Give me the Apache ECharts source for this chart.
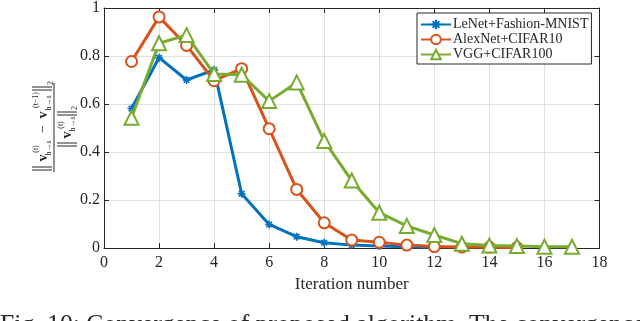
<!DOCTYPE html>
<html><head><meta charset="utf-8">
<script src="https://cdn.jsdelivr.net/npm/echarts@6/dist/echarts.min.js"></script>
<style>html,body{margin:0;padding:0;background:#fff}#c{width:640px;height:321px}</style>
</head><body><div id="c"></div>
<script>
var seriesNames = ['LeNet+Fashion-MNIST', 'AlexNet+CIFAR10', 'VGG+CIFAR100'];
var lenetIter = [1,2,3,4,5,6,7,8,9,10,11,12];
var lenetVals = [0.581,0.793,0.700,0.742,0.226,0.098,0.047,0.022,0.012,0.008,0.005,0.003];
var alexIter = [1,2,3,4,5,6,7,8,9,10,11,12,13,14,15];
var alexVals = [0.777,0.963,0.844,0.697,0.747,0.497,0.244,0.105,0.033,0.024,0.012,0.006,0.004,0.003,0.002];
var vggIter = [1,2,3,4,5,6,7,8,9,10,11,12,13,14,15,16,17];
var vggVals = [0.543,0.853,0.887,0.725,0.722,0.612,0.690,0.446,0.281,0.147,0.092,0.054,0.018,0.010,0.008,0.005,0.005];
var xTicks = [0,2,4,6,8,10,12,14,16,18];
var yTicks = [0,0.2,0.4,0.6,0.8,1];
var xLabel = 'Iteration number';
var caption = 'Fig. 10: Convergence of proposed algorithm. The convergence';

function pairs(xs, ys){ return xs.map(function(x,i){ return [x, ys[i]]; }); }

var serif = '"Liberation Serif", "Times New Roman", serif';
var ink = '#262626';
var colors = ['#0072BD', '#D95319', '#77AC30'];

function t(text, lx, ly, size, bold){
  return {type:'text', x:lx, y:ly, style:{text:text, font:(bold?'bold ':'')+size+'px '+serif, fill:ink, textAlign:'center', textVerticalAlign:'middle'}};
}
function ln(x1,y1,x2,y2){
  return {type:'line', shape:{x1:x1,y1:y1,x2:x2,y2:y2}, style:{stroke:ink, lineWidth:1}};
}
var labelParts = [
  ln(-45,0,44,0),
  // numerator
  ln(-43,-22,-43,-2), ln(-40,-22,-40,-2),
  t('v',-31,-11,14,true), t('(t)',-22,-18,8,false), t('h→s',-21,-5,8,false),
  t('−',-2,-11,14,false),
  t('v',12,-11,14,true), t('(t−1)',27,-18,8,false), t('h→s',24,-5,8,false),
  ln(37,-22,37,-2), ln(40,-22,40,-2), t('2',44,-3,8,false),
  // denominator
  ln(-19,3,-19,23), ln(-16,3,-16,23),
  t('v',-8,13,14,true), t('(t)',2,7,8,false), t('h→s',3,19,8,false),
  ln(12,3,12,23), ln(15,3,15,23), t('2',19,21,8,false)
];

var chart = echarts.init(document.getElementById('c'), null, {renderer:'canvas'});
var axisCommon = {
  type:'value', min:0,
  axisLine:{show:true, onZero:false, lineStyle:{color:ink, width:1}},
  axisTick:{show:true, inside:true, length:5, lineStyle:{color:ink}},
  splitLine:{show:true, lineStyle:{color:'#e0e0e0', width:1}},
  axisLabel:{color:ink, fontFamily:serif, fontSize:16}
};
chart.setOption({
  animation:false,
  backgroundColor:'#fff',
  grid:{left:104, right:40.5, top:6, bottom:73, containLabel:false},
  xAxis:[
    Object.assign({}, axisCommon, {position:'bottom', max:18, interval:2,
      name:xLabel, nameLocation:'middle', nameGap:28,
      nameTextStyle:{color:ink, fontFamily:serif, fontSize:17},
      axisLabel:{color:ink, fontFamily:serif, fontSize:16, margin:7}}),
    Object.assign({}, axisCommon, {position:'top', max:18, interval:2, axisLabel:{show:false}, splitLine:{show:false}})
  ],
  yAxis:[
    Object.assign({}, axisCommon, {position:'left', max:1, interval:0.2,
      axisLabel:{color:ink, fontFamily:serif, fontSize:16, margin:4,
        formatter:function(v){ return (Math.round(v*10)/10).toString(); }}}),
    Object.assign({}, axisCommon, {position:'right', max:1, interval:0.2, axisLabel:{show:false}, splitLine:{show:false}})
  ],
  legend:{
    orient:'vertical', left:417, top:13, data:seriesNames,
    backgroundColor:'#fff', borderColor:ink, borderWidth:1,
    padding:[4,3,2,3], itemGap:0, itemWidth:30, itemHeight:12,
    textStyle:{fontFamily:serif, fontSize:14, lineHeight:15, height:15, color:ink, padding:[0,0,0,-3]}
  },
  series:[
    {name:seriesNames[0], type:'line', data:pairs(lenetIter, lenetVals), z:2,
      lineStyle:{color:colors[0], width:3}, itemStyle:{color:colors[0], borderColor:colors[0], borderWidth:1.6},
      symbol:'path://M0,5L10,5M5,0L5,10M1.5,1.5L8.5,8.5M1.5,8.5L8.5,1.5', symbolSize:8, showAllSymbol:true},
    {name:seriesNames[1], type:'line', data:pairs(alexIter, alexVals), z:3,
      lineStyle:{color:colors[1], width:3}, itemStyle:{color:colors[1], borderColor:colors[1], borderWidth:2.5},
      symbol:'emptyCircle', symbolSize:11, showAllSymbol:true},
    {name:seriesNames[2], type:'line', data:pairs(vggIter, vggVals), z:4,
      lineStyle:{color:colors[2], width:3}, itemStyle:{color:colors[2], borderColor:colors[2], borderWidth:2.5},
      symbol:'emptyTriangle', symbolSize:14, showAllSymbol:true}
  ],
  graphic:[
    {type:'group', x:54, y:127, rotation:Math.PI/2, children:labelParts},
    {type:'text', left:0, top:312, style:{text:caption, font:'25.7px '+serif, fill:ink}}
  ]
});
</script></body></html>
